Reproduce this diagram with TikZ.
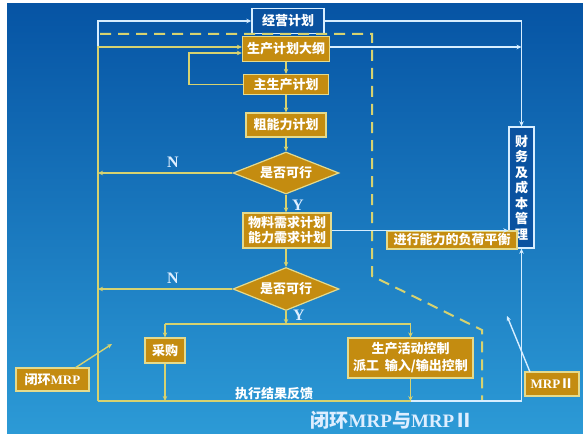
\documentclass[tikz,border=0pt]{standalone}
\usepackage{fontspec}
\setmainfont{Noto Sans CJK SC}
\newfontfamily\lserif{Liberation Serif}
\usetikzlibrary{arrows.meta,shapes.geometric}
\definecolor{bgtop}{RGB}{6,84,164}
\definecolor{bgmid}{RGB}{12,110,190}
\definecolor{bgbot}{RGB}{44,154,214}
\definecolor{gold}{RGB}{196,140,16}
\definecolor{goldline}{RGB}{228,218,140}
\definecolor{yline}{RGB}{214,210,112}
\definecolor{wline}{RGB}{215,238,255}
\definecolor{darkbox}{RGB}{10,82,160}
\definecolor{titlec}{RGB}{222,238,255}
\begin{document}
\begin{tikzpicture}[x=1pt,y=-1pt,
  boxfont/.style={font=\bfseries\fontsize{13}{15}\selectfont},
  gbox/.style={boxfont,draw=goldline,line width=1.2pt,fill=gold,text=white,inner sep=0pt,align=center},
  wbox/.style={boxfont,draw=wline,line width=1.4pt,fill=darkbox,text=white,inner sep=0pt,align=center},
  dia/.style={gbox,diamond,aspect=2.5},
  yl/.style={draw=yline,line width=1.4pt},
  wl/.style={draw=wline,line width=1.4pt},
  arr/.style={-{Stealth[length=5pt,width=4.5pt]}},
  lbl/.style={text=titlec,font=\lserif\bfseries\fontsize{16}{16}\selectfont,inner sep=0pt},
  dashl/.style={draw=yline,line width=2pt,dash pattern=on 11pt off 7pt}
]
\useasboundingbox (0,0) rectangle (583,441);
\fill[white] (0,0) rectangle (583,441);
\shade[top color=bgtop,middle color=bgmid,bottom color=bgbot] (7,4) rectangle (583,433);

% nodes
\node[wbox,minimum width=72pt,minimum height=25pt] (jy) at (288,21) {经营计划};
\node[gbox,minimum width=87pt,minimum height=25pt] (sc) at (286,49) {生产计划大纲};
\node[gbox,minimum width=85pt,minimum height=20pt] (zs) at (286,84.5) {主生产计划};
\node[gbox,minimum width=80pt,minimum height=24pt] (cn) at (286,125) {粗能力计划};
\node[dia,minimum width=106pt,minimum height=42pt] (d1) at (286,173) {是否可行};
\node[gbox,minimum width=88pt,minimum height=35pt] (mrp) at (287,230.5) {物料需求计划\\能力需求计划};
\node[dia,minimum width=106pt,minimum height=43pt] (d2) at (286,289) {是否可行};
\node[gbox,minimum width=40pt,minimum height=25pt] (cg) at (165,350.5) {采购};
\node[gbox,minimum width=125pt,minimum height=40pt,font=\bfseries\fontsize{13}{17}\selectfont] (sh) at (410.5,358) {生产活动控制\\派工\ \ 输入/输出控制};
\node[wbox,minimum width=25pt,minimum height=121pt,font=\bfseries\fontsize{13}{15.5}\selectfont] (cw) at (521.5,187.5) {财\\务\\及\\成\\本\\管\\理};
\node[gbox,minimum width=130pt,minimum height=18pt] (jx) at (452,240) {进行能力的负荷平衡};
\node[gbox,minimum width=73pt,minimum height=23pt] (bh) at (52.5,379.5) {闭环{\lserif MRP}};
\node[gbox,minimum width=54pt,minimum height=24pt] (m2) at (552,384) {{\lserif MRP}Ⅱ};

% coordinates
\coordinate (lt) at (98,47);
\coordinate (lb) at (98,401);
\coordinate (lp) at (189,53);
\coordinate (br) at (286,324);
\coordinate (da) at (100,34);
\coordinate (db) at (372,34);
\coordinate (dc) at (372,276);
\coordinate (dd) at (482,330);
\coordinate (de) at (482,400);
\coordinate (p0) at (75,368);
\coordinate (p1) at (112,344);
\coordinate (q0) at (530,372);
\coordinate (q1) at (507,316);

% dashed boundary
\draw[dashl] (da) -- (db) -- (dc) -- (dd) -- (de);

% white connectors
\draw[wl,arr] (lt) |- (jy.west);
\draw[wl,arr] (jy.east) -| (cw.north);
\draw[wl,arr] (sc.east |- lt) -- (lt -| cw.north);
\draw[wl,arr] (mrp.east) -- (mrp.east -| cw.west);
\draw[wl,arr] (sh.south |- lb) -| (cw.south);
\draw[wl,arr] (q0) -- (q1);

% yellow connectors
\draw[yl,arr] (lb) -- (lt) -- (sc.west |- lt);
\draw[yl,arr] (zs.west) -| (lp) -- (sc.west |- lp);
\draw[yl,arr] (sc.south) -- (zs.north);
\draw[yl,arr] (zs.south) -- (cn.north);
\draw[yl,arr] (cn.south) -- (d1.north);
\draw[yl,arr] (d1.south) -- (d1.south |- mrp.north);
\draw[yl,arr] (mrp.south -| d2.north) -- (d2.north);
\draw[yl,arr] (d1.west) -- (d1.west -| lb);
\draw[yl,arr] (d2.west) -- (d2.west -| lb);
\draw[yl,arr] (d2.south) -- (br);
\draw[yl] (cg.north |- br) -- (sh.north |- br);
\draw[yl,arr] (cg.north |- br) -- (cg.north);
\draw[yl,arr] (sh.north |- br) -- (sh.north);
\draw[yl,arr] (cg.south) -- (cg.south |- lb);
\draw[yl,arr] (sh.south) -- (sh.south |- lb);
\draw[yl] (sh.south |- lb) -- (lb);
\draw[yl,arr] (p0) -- (p1);

% labels
\node[lbl] (n1) at (173,162) {N};
\node[lbl] (n2) at (173,278) {N};
\node[lbl] (y1) at (298,205) {Y};
\node[lbl] (y2) at (299,315) {Y};
\node[text=white,boxfont,inner sep=0pt] (fk) at (274,394) {执行结果反馈};
\node[text=titlec,font=\bfseries\fontsize{19}{19}\selectfont,inner sep=0pt] (tt) at (392,420) {闭环{\lserif MRP}与{\lserif MRP}Ⅱ};
\end{tikzpicture}
\end{document}
